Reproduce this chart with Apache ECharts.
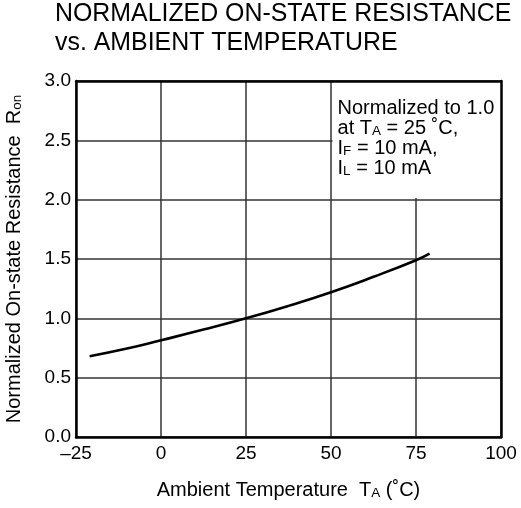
<!DOCTYPE html>
<html>
<head>
<meta charset="utf-8">
<script src="https://cdn.jsdelivr.net/npm/echarts@6/dist/echarts.min.js"></script>
<style>
html,body{margin:0;padding:0;background:#fff;}
#chart{width:521px;height:508px;}
</style>
</head>
<body>
<div id="chart"></div>
<script>
// Data
var temperature = [-21, -10, 0, 12.5, 25, 37.5, 50, 62.5, 75, 79];
var resistance  = [0.68, 0.745, 0.815, 0.905, 1.0, 1.105, 1.22, 1.35, 1.49, 1.545];
var xTicks = [-25, 0, 25, 50, 75, 100];
var yTicks = [0.0, 0.5, 1.0, 1.5, 2.0, 2.5, 3.0];

var FONT = 'Liberation Sans, Arial, Helvetica, sans-serif';
var seriesData = temperature.map(function (t, i) { return [t, resistance[i]]; });

var chart = echarts.init(document.getElementById('chart'), null, {renderer: 'canvas'});
var subStyle = {fontSize: 13.5, fontFamily: FONT, color: '#000', verticalAlign: 'bottom'};

chart.setOption({
  backgroundColor: '#fff',
  animation: false,
  title: {
    text: 'NORMALIZED ON-STATE RESISTANCE\nvs. AMBIENT TEMPERATURE',
    left: 55, top: 0, padding: 0,
    textStyle: {fontSize: 24.9, fontWeight: 'normal', color: '#000', fontFamily: FONT, lineHeight: 28.5}
  },
  grid: {left: 76, right: 20, top: 81, bottom: 71, containLabel: false, outerBoundsMode: 'none'},
  xAxis: [{
    type: 'value', min: xTicks[0], max: xTicks[xTicks.length - 1], interval: 25,
    name: 'Ambient Temperature  T{s|A} (˚C)',
    nameLocation: 'middle', nameGap: 43,
    nameTextStyle: {fontSize: 20, color: '#000', fontFamily: FONT, rich: {s: subStyle}},
    axisLine: {show: true, onZero: false, lineStyle: {color: '#000', width: 2.5}},
    axisTick: {show: false},
    axisLabel: {
      color: '#000', fontSize: 19, fontFamily: FONT, margin: 7,
      formatter: function (v) { return v < 0 ? '\u2013' + Math.abs(v) : String(v); }
    },
    splitLine: {show: true, lineStyle: {color: '#333', width: 1.5}}
  }, {
    type: 'value', position: 'top', min: xTicks[0], max: xTicks[xTicks.length - 1], interval: 25,
    z: 10,
    axisLine: {show: true, onZero: false, lineStyle: {color: '#000', width: 2.5}},
    axisTick: {show: false}, axisLabel: {show: false}, splitLine: {show: false}
  }],
  yAxis: [{
    type: 'value', min: yTicks[0], max: yTicks[yTicks.length - 1], interval: 0.5,
    name: 'Normalized On-state Resistance  R{s|on}',
    nameLocation: 'middle', nameGap: 51.5, nameRotate: 90,
    nameTextStyle: {fontSize: 20, color: '#000', fontFamily: FONT, rich: {s: subStyle}},
    axisLine: {show: true, onZero: false, lineStyle: {color: '#000', width: 2.5}},
    axisTick: {show: false},
    axisLabel: {
      color: '#000', fontSize: 19, fontFamily: FONT, margin: 5,
      formatter: function (v) { return v.toFixed(1); }
    },
    splitLine: {show: true, lineStyle: {color: '#333', width: 1.5}}
  }, {
    type: 'value', position: 'right', min: yTicks[0], max: yTicks[yTicks.length - 1], interval: 0.5,
    z: 10,
    axisLine: {show: true, onZero: false, lineStyle: {color: '#000', width: 2.5}},
    axisTick: {show: false}, axisLabel: {show: false}, splitLine: {show: false}
  }],
  series: [{
    type: 'line',
    xAxisIndex: 0, yAxisIndex: 0,
    data: seriesData,
    smooth: true,
    showSymbol: false,
    symbol: 'none',
    lineStyle: {color: '#000', width: 2.6},
    markArea: {
      silent: true,
      itemStyle: {color: '#fff', borderWidth: 0},
      label: {
        show: true, position: 'insideTopLeft', distance: 0,
        padding: [17, 0, 0, 5],
        color: '#000', fontSize: 20, fontFamily: FONT,
        formatter: 'Normalized to 1.0\nat T{s|A} = 25 ˚C,\nI{s|F} = 10 mA,\nI{s|L} = 10 mA',
        rich: {s: {fontSize: 13.5, fontFamily: FONT, color: '#000', verticalAlign: 'bottom'}}
      },
      data: [[{coord: [50.45, 3.0]}, {coord: [100, 2.013]}]]
    }
  }]
});
</script>
</body>
</html>
